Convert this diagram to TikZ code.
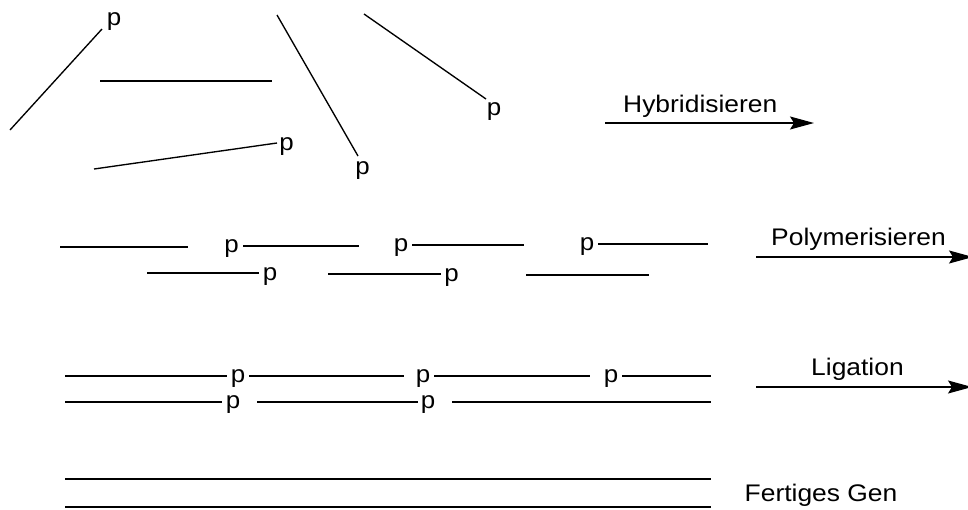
\documentclass[tikz,border=0pt]{standalone}
\usepackage{fontspec}
\setmainfont{Liberation Sans}
\usetikzlibrary{arrows.meta}
\begin{document}
\begin{tikzpicture}[x=1pt,y=-1pt,
  strand/.style={line width=1.35pt},
  plabel/.style={inner sep=0pt,anchor=base,font=\fontsize{24}{27}\selectfont,xscale=1.08,transform shape},
  steplabel/.style={inner sep=0pt,anchor=base west,font=\fontsize{24}{27}\selectfont,xscale=1.1,transform shape},
  steparrow/.style={line width=1.35pt,-{Stealth[length=24pt,width=13pt,inset=4pt]}}]
\useasboundingbox (0,0) rectangle (968,509);

% loose oligonucleotides
\coordinate (a1) at (10,130);  \coordinate (a2) at (102,29);
\coordinate (b1) at (100,81);  \coordinate (b2) at (272,81);
\coordinate (c1) at (94,169);  \coordinate (c2) at (277,143);
\coordinate (d1) at (277,15);  \coordinate (d2) at (358,156);
\coordinate (e1) at (364,14);  \coordinate (e2) at (486,99);
\draw[strand] (a1) -- (a2);
\draw[strand] (b1) -- (b2);
\draw[strand] (c1) -- (c2);
\draw[strand] (d1) -- (d2);
\draw[strand] (e1) -- (e2);
\node[plabel] (pa) at (114,25) {p};
\node[plabel] (pc) at (286.5,150) {p};
\node[plabel] (pd) at (362.5,174) {p};
\node[plabel] (pe) at (494,115) {p};

\coordinate (h1) at (605,123); \coordinate (h2) at (814,123);
\draw[steparrow] (h1) -- (h2);
\node[steplabel] (th) at (623,112) {Hybridisieren};

% hybridised fragments
\coordinate (r1a) at (60,247);  \coordinate (r1b) at (188,247);
\coordinate (r2a) at (243,246); \coordinate (r2b) at (359,246);
\coordinate (r3a) at (412,245); \coordinate (r3b) at (524,245);
\coordinate (r4a) at (598,244); \coordinate (r4b) at (708,244);
\coordinate (s1a) at (147,273); \coordinate (s1b) at (259,273);
\coordinate (s2a) at (328,274); \coordinate (s2b) at (441,274);
\coordinate (s3a) at (526,275); \coordinate (s3b) at (649,275);
\foreach \u/\v in {r1a/r1b,r2a/r2b,r3a/r3b,r4a/r4b,s1a/s1b,s2a/s2b,s3a/s3b}
  \draw[strand] (\u) -- (\v);
\node[plabel] (pr2) at (231.5,252) {p};
\node[plabel] (pr3) at (401,251) {p};
\node[plabel] (pr4) at (587,250) {p};
\node[plabel] (ps1) at (270,280) {p};
\node[plabel] (ps2) at (451.5,281) {p};

\coordinate (m1) at (756,257); \coordinate (m2) at (973,257);
\draw[steparrow] (m1) -- (m2);
\node[steplabel] (tm) at (771,245) {Polymerisieren};

% filled double strand with nicks
\coordinate (u1a) at (65,376);  \coordinate (u1b) at (227,376);
\coordinate (u2a) at (249,376); \coordinate (u2b) at (404,376);
\coordinate (u3a) at (434,376); \coordinate (u3b) at (590,376);
\coordinate (u4a) at (622,376); \coordinate (u4b) at (711,376);
\coordinate (w1a) at (65,402);  \coordinate (w1b) at (222,402);
\coordinate (w2a) at (257,402); \coordinate (w2b) at (418,402);
\coordinate (w3a) at (452,402); \coordinate (w3b) at (711,402);
\foreach \u/\v in {u1a/u1b,u2a/u2b,u3a/u3b,u4a/u4b,w1a/w1b,w2a/w2b,w3a/w3b}
  \draw[strand] (\u) -- (\v);
\node[plabel] (pu1) at (238,382) {p};
\node[plabel] (pu2) at (423,382) {p};
\node[plabel] (pu3) at (611,382) {p};
\node[plabel] (pw1) at (233,408) {p};
\node[plabel] (pw2) at (428,408) {p};

\coordinate (l1) at (756,387); \coordinate (l2) at (972,387);
\draw[steparrow] (l1) -- (l2);
\node[steplabel] (tl) at (811,375) {Ligation};

% finished gene
\coordinate (g1a) at (65,479); \coordinate (g1b) at (711,479);
\coordinate (g2a) at (65,507); \coordinate (g2b) at (711,507);
\draw[strand] (g1a) -- (g1b);
\draw[strand] (g2a) -- (g2b);
\node[steplabel] (tg) at (744.5,501) {Fertiges Gen};
\end{tikzpicture}
\end{document}
